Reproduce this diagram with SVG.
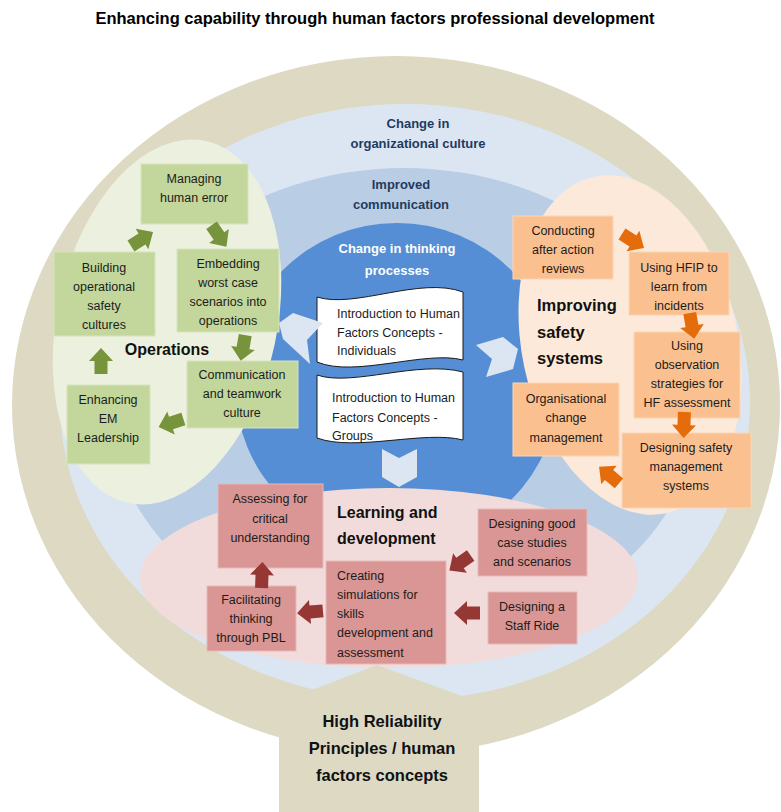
<svg xmlns="http://www.w3.org/2000/svg" xmlns:xlink="http://www.w3.org/1999/xlink" width="781" height="812" viewBox="0 0 781 812">
  <style>
    text { font-family: "Liberation Sans", Arial, sans-serif; }
    .t { font-size: 12.5px; fill: #1c1c1c; text-anchor: middle; }
    .tl { font-size: 12.5px; fill: #1c1c1c; }
    .h { font-size: 16px; font-weight: bold; fill: #111; }
    .ring { font-size: 13px; font-weight: bold; fill: #1f3b5e; text-anchor: middle; }
    .gbox { fill: #c3d69b; stroke: #d7e4bd; stroke-width: 1; }
    .obox { fill: #fac090; stroke: #fcd5b5; stroke-width: 1; }
    .rbox { fill: #d99694; stroke: #e6b9b8; stroke-width: 1; }
    .chev { fill: #dce6f2; }
    .doc { fill: #ffffff; stroke: #1a1a1a; stroke-width: 1; }
  </style>
  <defs>
    <path id="blk" d="M-13,-6.5 L0,-6.5 L0,-12 L13,0 L0,12 L0,6.5 L-13,6.5 Z"/>
  </defs>

  <rect width="781" height="812" fill="#ffffff"/>

  <!-- title -->
  <text x="375" y="24" font-size="16.5" font-weight="bold" text-anchor="middle" fill="#000">Enhancing capability through human factors professional development</text>

  <!-- background rings -->
  <g id="rings">
    <ellipse cx="396" cy="405" rx="384" ry="349" fill="#ddd9c3"/>
    <ellipse cx="405" cy="402" rx="345" ry="298" fill="#dce6f2"/>
    <ellipse cx="404" cy="405" rx="295" ry="237" fill="#b9cde5"/>
    <circle cx="397" cy="385" r="162" fill="#558ed5"/>
  </g>

  <!-- domain ellipses -->
  <ellipse id="operations-area" cx="167" cy="322" rx="110" ry="185" transform="rotate(12 167 322)" fill="#ebf1de"/>
  <ellipse id="safety-area" cx="630" cy="345" rx="108" ry="172" transform="rotate(-12 630 345)" fill="#fde9d9"/>
  <ellipse id="learning-area" cx="389" cy="578" rx="249" ry="90" fill="#f2dcdb"/>

  <!-- base stem -->
  <polygon id="stem" points="279,812 279,702 307,692 377,665 470,699 479,702 479,812" fill="#ddd9c3"/>

  <!-- ring labels -->
  <g id="ring-labels">
    <text class="ring" x="418" y="127.5">Change in</text>
    <text class="ring" x="418" y="147.5">organizational culture</text>
    <text class="ring" x="401" y="188.5">Improved</text>
    <text class="ring" x="401" y="208.5">communication</text>
    <text class="ring" x="397" y="252.5" style="fill:#ffffff">Change in thinking</text>
    <text class="ring" x="397" y="274.5" style="fill:#ffffff">processes</text>
  </g>

  <!-- centre documents -->
  <g id="doc-individuals">
    <path class="doc" d="M317,297 C355,309 420,276 463,292 L463,360 C425,350 355,378 317,362 Z"/>
    <text class="tl" x="337" y="317.5">Introduction to Human</text>
    <text class="tl" x="337" y="336.5">Factors Concepts -</text>
    <text class="tl" x="337" y="354.5">Individuals</text>
  </g>
  <g id="doc-groups">
    <path class="doc" d="M317,375 C352,387 418,360 463,372 L463,440 C425,430 355,452 317,438 Z"/>
    <text class="tl" x="332" y="401.5">Introduction to Human</text>
    <text class="tl" x="332" y="421.5">Factors Concepts -</text>
    <text class="tl" x="332" y="439.5">Groups</text>
  </g>

  <!-- chevrons leaving the centre -->
  <g id="chevrons">
    <polygon class="chev" points="279,323 293,313 323,323 307,340 310,364 283,339"/>
    <polygon class="chev" points="476,345 503,337 518,349 513,369 486,377 492,359"/>
    <polygon class="chev" points="382,449 399,458 417,449 417,477 399,487 382,477"/>
  </g>

  <!-- Operations -->
  <g id="operations">
    <text class="h" x="167" y="355" text-anchor="middle">Operations</text>
  </g>
  <g id="managing-human-error">
    <rect class="gbox" x="141" y="164" width="107" height="60"/>
    <text class="t" x="194" y="182.5">Managing</text>
    <text class="t" x="194" y="201.5">human error</text>
  </g>
  <g id="building-cultures">
    <rect class="gbox" x="54" y="252" width="101" height="84"/>
    <text class="t" x="104" y="271.5">Building</text>
    <text class="t" x="104" y="290.5">operational</text>
    <text class="t" x="104" y="309.5">safety</text>
    <text class="t" x="104" y="328.5">cultures</text>
  </g>
  <g id="embedding-scenarios">
    <rect class="gbox" x="177" y="249" width="102" height="83"/>
    <text class="t" x="228" y="267.5">Embedding</text>
    <text class="t" x="228" y="286.5">worst case</text>
    <text class="t" x="228" y="305.5">scenarios into</text>
    <text class="t" x="228" y="324.5">operations</text>
  </g>
  <g id="communication-teamwork">
    <rect class="gbox" x="187" y="361" width="111" height="67"/>
    <text class="t" x="242" y="378.5">Communication</text>
    <text class="t" x="242" y="397.5">and teamwork</text>
    <text class="t" x="242" y="416.5">culture</text>
  </g>
  <g id="enhancing-leadership">
    <rect class="gbox" x="67" y="385" width="83" height="79"/>
    <text class="t" x="108" y="403.5">Enhancing</text>
    <text class="t" x="108" y="422.5">EM</text>
    <text class="t" x="108" y="441.5">Leadership</text>
  </g>

  <!-- Improving safety systems -->
  <g id="safety-systems">
    <text class="h" x="537" y="311" style="font-size:16.5px">Improving</text>
    <text class="h" x="537" y="338" style="font-size:16.5px">safety</text>
    <text class="h" x="537" y="364" style="font-size:16.5px">systems</text>
  </g>
  <g id="after-action-reviews">
    <rect class="obox" x="513" y="216" width="100" height="63"/>
    <text class="t" x="563" y="234.5">Conducting</text>
    <text class="t" x="563" y="253.5">after action</text>
    <text class="t" x="563" y="272.5">reviews</text>
  </g>
  <g id="hfip-incidents">
    <rect class="obox" x="629" y="252" width="100" height="63"/>
    <text class="t" x="679" y="271.5">Using HFIP to</text>
    <text class="t" x="679" y="290.5">learn from</text>
    <text class="t" x="679" y="309.5">incidents</text>
  </g>
  <g id="observation-strategies">
    <rect class="obox" x="634" y="332" width="106" height="86"/>
    <text class="t" x="687" y="349.5">Using</text>
    <text class="t" x="687" y="368.5">observation</text>
    <text class="t" x="687" y="387.5">strategies for</text>
    <text class="t" x="687" y="406.5">HF assessment</text>
  </g>
  <g id="organisational-change">
    <rect class="obox" x="513" y="383" width="106" height="73"/>
    <text class="t" x="566" y="402.5">Organisational</text>
    <text class="t" x="566" y="421.5">change</text>
    <text class="t" x="566" y="441.5">management</text>
  </g>
  <g id="safety-management">
    <rect class="obox" x="622" y="433" width="129" height="75"/>
    <text class="t" x="686" y="451.5">Designing safety</text>
    <text class="t" x="686" y="470.5">management</text>
    <text class="t" x="686" y="489.5">systems</text>
  </g>

  <!-- Learning and development -->
  <g id="learning-development">
    <text class="h" x="337" y="518">Learning and</text>
    <text class="h" x="337" y="544">development</text>
  </g>
  <g id="assessing-understanding">
    <rect class="rbox" x="218" y="484" width="105" height="84"/>
    <text class="t" x="270" y="502.5">Assessing for</text>
    <text class="t" x="270" y="522.5">critical</text>
    <text class="t" x="270" y="541.5">understanding</text>
  </g>
  <g id="case-studies">
    <rect class="rbox" x="478" y="509" width="109" height="67"/>
    <text class="t" x="532" y="527.5">Designing good</text>
    <text class="t" x="532" y="546.5">case studies</text>
    <text class="t" x="532" y="565.5">and scenarios</text>
  </g>
  <g id="creating-simulations">
    <rect class="rbox" x="326" y="561" width="120" height="103"/>
    <text class="tl" x="337" y="579.5">Creating</text>
    <text class="tl" x="337" y="598.5">simulations for</text>
    <text class="tl" x="337" y="617.5">skills</text>
    <text class="tl" x="337" y="636.5">development and</text>
    <text class="tl" x="337" y="656.5">assessment</text>
  </g>
  <g id="facilitating-pbl">
    <rect class="rbox" x="207" y="586" width="89" height="65"/>
    <text class="t" x="251" y="603.5">Facilitating</text>
    <text class="t" x="251" y="622.5">thinking</text>
    <text class="t" x="251" y="641.5">through PBL</text>
  </g>
  <g id="staff-ride">
    <rect class="rbox" x="488" y="592" width="89" height="52"/>
    <text class="t" x="532" y="610.5">Designing a</text>
    <text class="t" x="532" y="629.5">Staff Ride</text>
  </g>

  <!-- foundation label -->
  <g id="foundation">
    <text class="h" x="382" y="727" text-anchor="middle" style="font-size:16.5px">High Reliability</text>
    <text class="h" x="382" y="754" text-anchor="middle" style="font-size:16.5px">Principles / human</text>
    <text class="h" x="382" y="781" text-anchor="middle" style="font-size:16.5px">factors concepts</text>
  </g>

  <!-- connectors: block arrows -->
  <g id="connectors">
    <g fill="#77933c">
      <use xlink:href="#blk" transform="translate(142 239) rotate(-32)"/>
      <use xlink:href="#blk" transform="translate(219 236) rotate(55)"/>
      <use xlink:href="#blk" transform="translate(243 348) rotate(100)"/>
      <use xlink:href="#blk" transform="translate(171 423) rotate(162)"/>
      <use xlink:href="#blk" transform="translate(101 361) rotate(-90)"/>
    </g>
    <g fill="#e46c0a">
      <use xlink:href="#blk" transform="translate(633 241) rotate(32)"/>
      <use xlink:href="#blk" transform="translate(692 326) rotate(80)"/>
      <use xlink:href="#blk" transform="translate(684 425) rotate(92)"/>
      <use xlink:href="#blk" transform="translate(609 475) rotate(-140)"/>
    </g>
    <g fill="#953735">
      <use xlink:href="#blk" transform="translate(460 563) rotate(145)"/>
      <use xlink:href="#blk" transform="translate(467 613) rotate(180)"/>
      <use xlink:href="#blk" transform="translate(310 612) rotate(175)"/>
      <use xlink:href="#blk" transform="translate(262 575) rotate(-88)"/>
    </g>
  </g>
</svg>
